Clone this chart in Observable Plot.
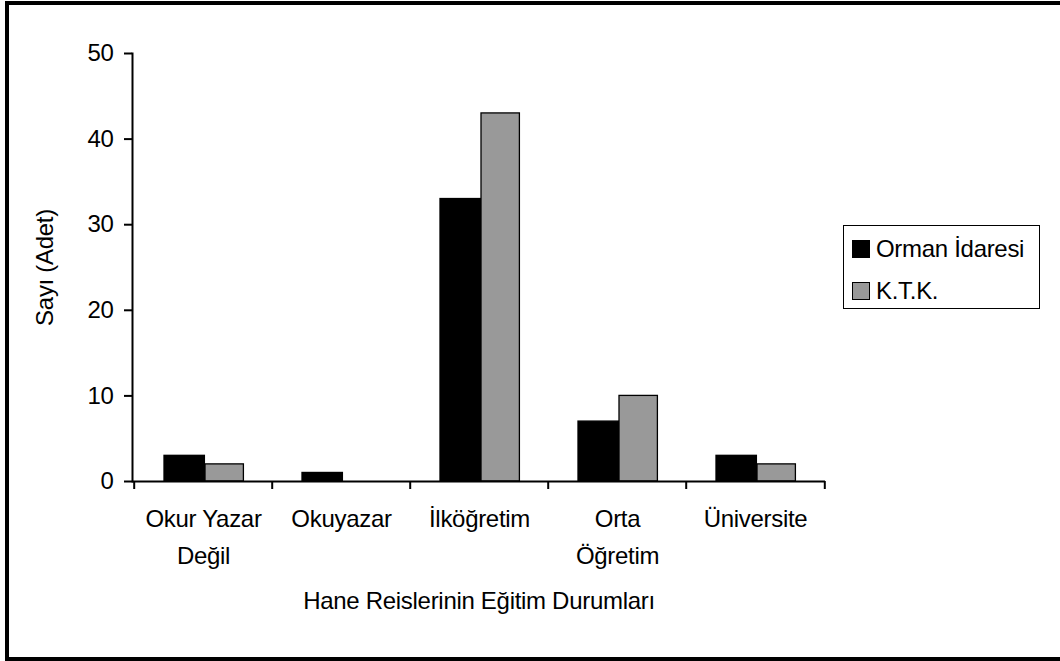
<!DOCTYPE html>
<html>
<head>
<meta charset="utf-8">
<script src="https://cdn.jsdelivr.net/npm/d3@7"></script>
<script src="https://cdn.jsdelivr.net/npm/@observablehq/plot@0.6"></script>
<style>
  html, body { margin: 0; padding: 0; background: #fff; overflow: hidden; width: 1060px; height: 661px; }
  #frame { position: absolute; left: 5px; top: 1px; width: 1100px; height: 660px; box-sizing: border-box; border: 4px solid #000; }
  #chart { position: absolute; left: 0; top: 0; }
  #legend { position: absolute; left: 843px; top: 225px; width: 197px; height: 84px; box-sizing: border-box; border: 1.5px solid #000; background: #fff;
    font-family: "Liberation Sans", Arial, sans-serif; font-size: 24px; letter-spacing: -0.3px; color: #000; }
  .row { position: absolute; left: 8px; display: flex; align-items: center; height: 26px; }
  .sw { width: 18px; height: 18px; box-sizing: border-box; border: 1.3px solid #000; margin-right: 6px; }
</style>
</head>
<body>
<div id="frame"></div>
<div id="chart"></div>
<div id="legend"></div>
<script>
const categories = ["Okur Yazar\nDeğil", "Okuyazar", "İlköğretim", "Orta\nÖğretim", "Üniversite"];
const ormanIdaresi = [3, 1, 33, 7, 3];
const ktk = [2, 0, 43, 10, 2];
const seriesNames = ["Orman İdaresi", "K.T.K."];
const seriesColors = ["#000000", "#999999"];
const yTicks = [0, 10, 20, 30, 40, 50];
const yLabel = "Sayı (Adet)";
const xLabel = "Hane Reislerinin Eğitim Durumları";

const data = categories.map((c, i) => ({category: c, orman: ormanIdaresi[i], ktk: ktk[i]}));
const bandHalf = (1060 - 132 - 235) / categories.length / 2;

const chart = Plot.plot({
  width: 1060, height: 661,
  marginLeft: 132, marginRight: 235, marginTop: 53, marginBottom: 180,
  style: {fontFamily: "'Liberation Sans', Arial, sans-serif", fontSize: "24px", letterSpacing: "-0.3px", color: "#000", background: "transparent", overflow: "visible"},
  x: {domain: categories, type: "band", padding: 0},
  y: {domain: [0, 50]},
  marks: [
    Plot.barY(data, {x: "category", y: "orman", fill: seriesColors[0], stroke: "#000", strokeWidth: 1.3, insetLeft: 30, insetRight: 67.6}),
    Plot.barY(data.filter(d => d.ktk > 0), {x: "category", y: "ktk", fill: seriesColors[1], stroke: "#000", strokeWidth: 1.3, insetLeft: 71, insetRight: 28.6}),
    Plot.frame({anchor: "left", stroke: "#000", strokeWidth: 2}),
    Plot.ruleY([0], {stroke: "#000", strokeWidth: 2}),
    Plot.axisY({ticks: yTicks, tickSize: 8, tickPadding: 11, strokeWidth: 2, label: null}),
    Plot.axisX({tickSize: 8, strokeWidth: 2, tickFormat: () => "", dx: -bandHalf, label: null}),
    Plot.axisX([categories[categories.length - 1]], {tickSize: 8, strokeWidth: 2, tickFormat: () => "", dx: bandHalf, label: null}),
    Plot.axisX({tickSize: 0, tickPadding: 19, lineHeight: 1.55, label: null}),
    Plot.text([yLabel], {frameAnchor: "left", textAnchor: "middle", rotate: -90, dx: -87, fontSize: 24}),
    Plot.text([xLabel], {frameAnchor: "bottom", dy: 127, fontSize: 24})
  ]
});
document.getElementById("chart").appendChild(chart);

const legend = document.getElementById("legend");
const rowTops = [10, 52];
seriesNames.forEach((name, i) => {
  const row = document.createElement("div");
  row.className = "row";
  row.style.top = rowTops[i] + "px";
  const sw = document.createElement("div");
  sw.className = "sw";
  sw.style.background = seriesColors[i];
  const t = document.createElement("span");
  t.textContent = name;
  row.appendChild(sw);
  row.appendChild(t);
  legend.appendChild(row);
});
</script>
</body>
</html>
